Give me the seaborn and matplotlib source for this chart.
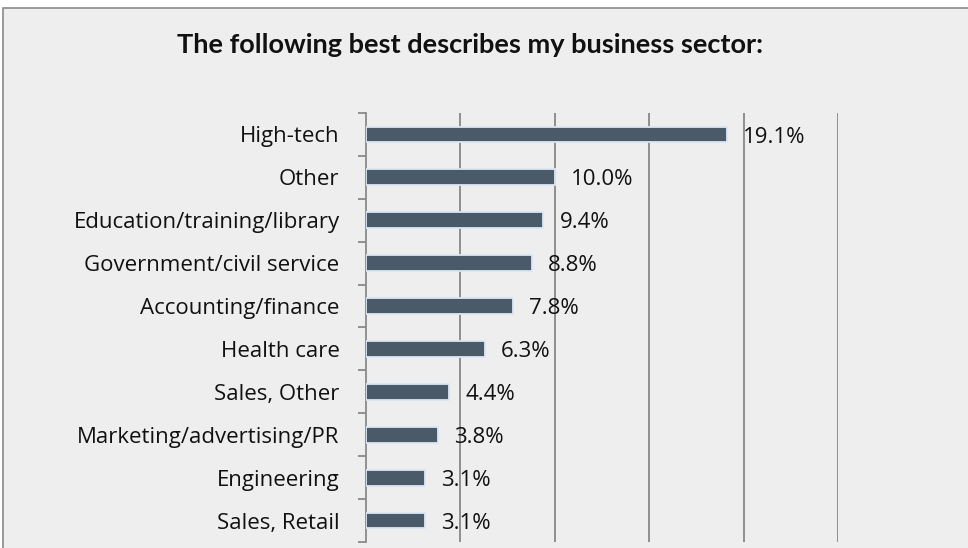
import matplotlib
matplotlib.use("Agg")
import matplotlib.pyplot as plt
import seaborn as sns
import pandas as pd
from matplotlib.patches import Rectangle

categories = [
    "High-tech",
    "Other",
    "Education/training/library",
    "Government/civil service",
    "Accounting/finance",
    "Health care",
    "Sales, Other",
    "Marketing/advertising/PR",
    "Engineering",
    "Sales, Retail",
]
shares = [19.1, 10.0, 9.4, 8.8, 7.8, 6.3, 4.4, 3.8, 3.1, 3.1]
title = "The following best describes my business sector:"

df = pd.DataFrame({"sector": categories, "share": shares})

sns.set_theme(style="white")
plt.rcParams["font.family"] = ["Open Sans", "DejaVu Sans"]

W, H = 968, 548
fig = plt.figure(figsize=(W / 100, H / 100), dpi=100, facecolor="white")

# chart panel with a thin grey frame (runs past the right and bottom edges)
panel = Rectangle((3 / W, -0.05), 1.1, 1 - 8 / H + 0.05, transform=fig.transFigure,
                  facecolor="#eeeeee", edgecolor="#8a8a8a", linewidth=1.2, zorder=-5)
fig.patches.append(panel)

ax = fig.add_axes([366 / W, 1 - 542 / H, (838 - 366) / W, (542 - 113) / H])
ax.set_zorder(2)
ax.set_facecolor("none")

sns.barplot(data=df, x="share", y="sector", orient="h", color="#4a5a69",
            width=0.37, saturation=1, ax=ax, zorder=3)
for p in ax.patches:
    p.set_edgecolor("#dce7f5")
    p.set_linewidth(1.3)

ax.set_xlim(0, 25)
ax.set_ylim(len(categories) - 0.5, -0.5)
ax.set_xlabel("")
ax.set_ylabel("")
ax.set_xticks([5, 10, 15, 20, 25])
ax.tick_params(axis="x", length=0, labelbottom=False)
ax.grid(axis="x", color="#888888", linewidth=1.3, zorder=1)
ax.grid(axis="y", visible=False)

for side in ["top", "right", "bottom"]:
    ax.spines[side].set_visible(False)
ax.spines["left"].set_color("#8a8a8a")
ax.spines["left"].set_linewidth(1.3)

# category labels at bar centres, tick marks at category boundaries
label_size = 16
ax.set_yticks(range(len(categories)))
ax.set_yticklabels(categories, fontsize=label_size, color="#111111")
ax.tick_params(axis="y", which="major", length=0, pad=19)
ax.set_yticks([i - 0.5 for i in range(len(categories) + 1)], minor=True)
ax.tick_params(axis="y", which="minor", left=True, length=6, width=1.3,
               color="#8a8a8a")

for i, v in enumerate(shares):
    ax.text(v + 0.85, i + 0.06, f"{v:.1f}%", va="center", ha="left",
            fontsize=label_size, color="#111111", zorder=4)

fig.text(470 / W, 1 - 45 / H, title, ha="center", va="center",
         fontsize=19.5, fontweight="bold", color="#111111",
         family=["Lato", "DejaVu Sans"])

fig.savefig("out.png", dpi=100, facecolor="white")
